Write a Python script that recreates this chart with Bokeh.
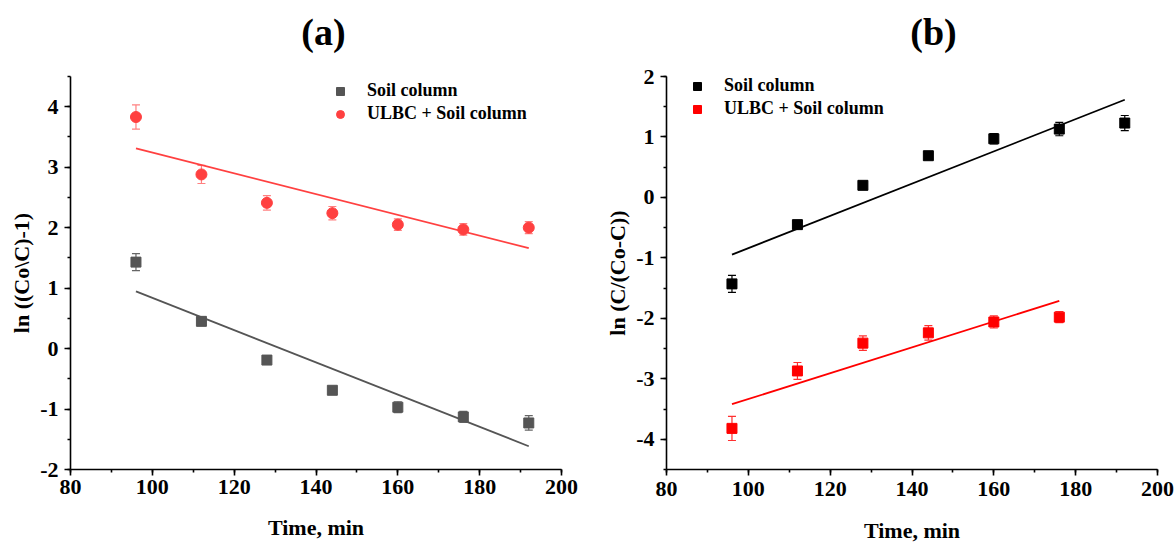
from bokeh.plotting import figure
from bokeh.models import (ColumnDataSource, Whisker, TeeHead, Legend, LegendItem,
                          SingleIntervalTicker, Range1d, PrintfTickFormatter)
from bokeh.layouts import row, column
from bokeh.core.properties import value
from bokeh.embed import file_html
from bokeh.resources import INLINE

# ---------------- data ----------------
time = [96, 112, 128, 144, 160, 176, 192]

# panel (a): ln((Co\C)-1)
a_soil = [1.43, 0.45, -0.19, -0.69, -0.97, -1.13, -1.23]
a_soil_err = [0.14, 0.03, 0.03, 0.03, 0.09, 0.09, 0.12]
a_ulbc = [3.83, 2.88, 2.41, 2.24, 2.05, 1.97, 2.00]
a_ulbc_err = [0.20, 0.15, 0.12, 0.11, 0.095, 0.095, 0.10]
a_soil_fit_x = [96, 192]
a_soil_fit_y = [0.945, -1.615]
a_ulbc_fit_x = [96, 192]
a_ulbc_fit_y = [3.31, 1.66]

# panel (b): ln(C/(Co-C))
time_b_ulbc = [96, 112, 128, 144, 160, 176]
b_soil = [-1.43, -0.45, 0.20, 0.69, 0.97, 1.13, 1.23]
b_soil_err = [0.14, 0.03, 0.03, 0.03, 0.085, 0.11, 0.125]
b_ulbc = [-3.82, -2.87, -2.41, -2.24, -2.06, -1.98]
b_ulbc_err = [0.20, 0.14, 0.12, 0.12, 0.10, 0.09]
b_soil_fit_x = [96, 192]
b_soil_fit_y = [-0.945, 1.615]
b_ulbc_fit_x = [96, 176]
b_ulbc_fit_y = [-3.42, -1.71]

panel_titles = ["(a)", "(b)"]

FONT = "Liberation Serif"
TITLE_H = 60
W_A, W_B = 602, 573
H_MAIN = 545 - TITLE_H


def style(p, ylabel, xtick_standoff, xlabel_standoff):
    p.outline_line_color = None
    p.xgrid.visible = False
    p.ygrid.visible = False
    p.background_fill_color = "white"
    p.border_fill_color = "white"
    for ax in (p.xaxis[0], p.yaxis[0]):
        ax.axis_line_width = 1.6
        ax.axis_line_color = "black"
        ax.major_tick_line_color = "black"
        ax.major_tick_line_width = 1.6
        ax.minor_tick_line_color = "black"
        ax.minor_tick_line_width = 1.6
        ax.major_tick_in = 0
        ax.major_tick_out = 6
        ax.minor_tick_in = 0
        ax.minor_tick_out = 3
        ax.major_label_text_font = FONT
        ax.major_label_text_font_style = "bold"
        ax.major_label_text_font_size = "22px"
        ax.major_label_text_color = "black"
        ax.axis_label_text_font = FONT
        ax.axis_label_text_font_style = "bold"
        ax.axis_label_text_font_size = "22px"
        ax.axis_label_text_color = "black"
        ax.formatter = PrintfTickFormatter(format="%d")
    p.xaxis[0].ticker = SingleIntervalTicker(interval=20, num_minor_ticks=2)
    p.yaxis[0].ticker = SingleIntervalTicker(interval=1, num_minor_ticks=2)
    p.xaxis[0].major_label_standoff = xtick_standoff
    p.yaxis[0].major_label_standoff = 6
    p.xaxis[0].axis_label = "Time, min"
    p.xaxis[0].axis_label_standoff = xlabel_standoff
    p.yaxis[0].axis_label = ylabel
    p.yaxis[0].axis_label_standoff = 3


def title_fig(width, text, cx):
    t = figure(width=width, height=TITLE_H, output_backend="svg", toolbar_location=None,
               x_range=Range1d(0, width), y_range=Range1d(0, TITLE_H),
               x_axis_location=None, y_axis_location=None,
               min_border_left=0, min_border_right=0, min_border_top=0,
               min_border_bottom=0)
    t.outline_line_color = None
    t.xgrid.visible = False
    t.ygrid.visible = False
    t.text(x=[cx], y=[TITLE_H - 31], text=[text], text_font=value(FONT),
           text_font_style="bold", text_font_size="38px", text_color="black",
           text_align="center", text_baseline="middle")
    return t


def errbars(p, x, y, e, color):
    src = ColumnDataSource(dict(x=x, lo=[v - d for v, d in zip(y, e)],
                                hi=[v + d for v, d in zip(y, e)]))
    w = Whisker(base="x", lower="lo", upper="hi", source=src, dimension="height",
                line_color=color, line_width=1.2,
                upper_head=TeeHead(size=8, line_color=color, line_width=1.2),
                lower_head=TeeHead(size=8, line_color=color, line_width=1.2))
    p.add_layout(w)


def make_legend(p, items, loc):
    lg = Legend(items=items, location=loc, border_line_color=None,
                background_fill_alpha=0, padding=0, margin=0, spacing=2,
                glyph_width=20, glyph_height=20, label_height=20,
                label_standoff=17, label_text_font=FONT,
                label_text_font_style="bold", label_text_font_size="18px",
                label_text_color="black")
    p.add_layout(lg)


# ---------------- panel (a) ----------------
pa = figure(width=W_A, height=H_MAIN, output_backend="svg", toolbar_location=None,
            x_range=Range1d(80, 200), y_range=Range1d(-2, 4.5),
            min_border_left=70, min_border_right=41, min_border_top=76 - TITLE_H,
            min_border_bottom=73)
style(pa, "ln ((Co\\C)-1)", 4, 18)

GRAY = "#555555"
RED = "#ff4040"
pa.line(a_soil_fit_x, a_soil_fit_y, line_color=GRAY, line_width=1.8)
pa.line(a_ulbc_fit_x, a_ulbc_fit_y, line_color=RED, line_width=1.8)
errbars(pa, time, a_soil, a_soil_err, "#666666")
errbars(pa, time, a_ulbc, a_ulbc_err, "#ff8080")
ra1 = pa.scatter(time, a_soil, marker="square", size=10, fill_color=GRAY, line_color=GRAY)
ra2 = pa.scatter(time, a_ulbc, marker="circle", size=11, fill_color=RED, line_color=RED)
make_legend(pa, [LegendItem(label="Soil column", renderers=[ra1]),
                 LegendItem(label="ULBC + Soil column", renderers=[ra2])], (260, 345))

# ---------------- panel (b) ----------------
pb = figure(width=W_B, height=H_MAIN, output_backend="svg", toolbar_location=None,
            x_range=Range1d(80, 200), y_range=Range1d(-4.5, 2),
            min_border_left=60, min_border_right=18, min_border_top=71 - TITLE_H,
            min_border_bottom=76)
style(pb, "ln (C/(Co-C))", 6, 19)

BLACK = "#000000"
RED2 = "#ff0000"
pb.line(b_soil_fit_x, b_soil_fit_y, line_color=BLACK, line_width=1.8)
pb.line(b_ulbc_fit_x, b_ulbc_fit_y, line_color=RED2, line_width=1.8)
errbars(pb, time, b_soil, b_soil_err, BLACK)
errbars(pb, time_b_ulbc, b_ulbc, b_ulbc_err, "#ff3030")
rb1 = pb.scatter(time, b_soil, marker="square", size=10, fill_color=BLACK, line_color=BLACK)
rb2 = pb.scatter(time_b_ulbc, b_ulbc, marker="square", size=10, fill_color=RED2, line_color=RED2)
make_legend(pb, [LegendItem(label="Soil column", renderers=[rb1]),
                 LegendItem(label="ULBC + Soil column", renderers=[rb2])], (21, 350))

ta = title_fig(W_A, panel_titles[0], 323)
tb = title_fig(W_B, panel_titles[1], 933 - W_A)

layout = column(row(ta, tb), row(pa, pb))
open("out.html", "w").write(file_html(layout, INLINE))
